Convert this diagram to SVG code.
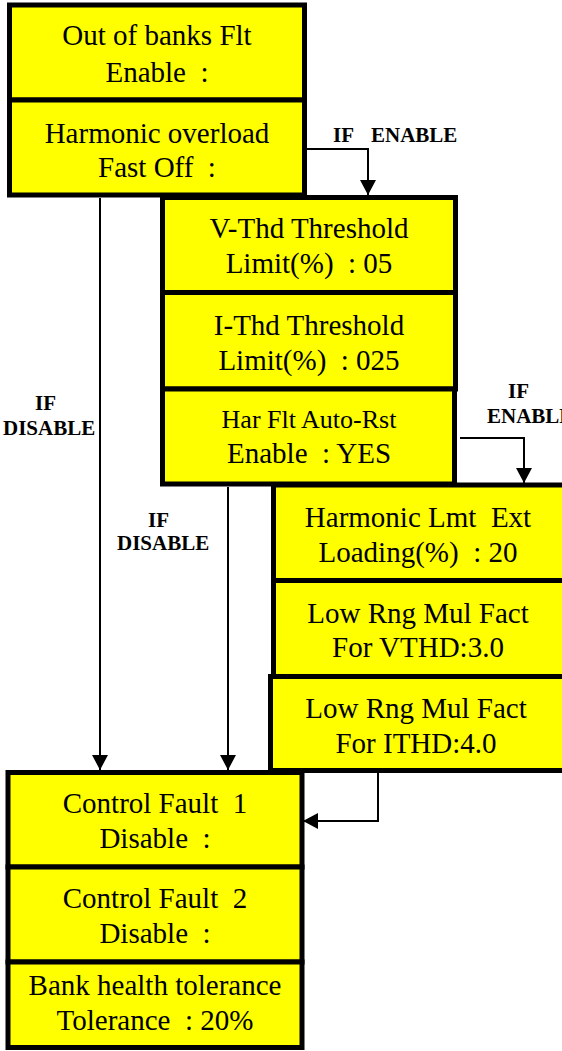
<svg xmlns="http://www.w3.org/2000/svg" width="562" height="1051" viewBox="0 0 562 1051">
<style>
.box{fill:#FFFF00;stroke:#000;stroke-width:5}
.t{font-family:"Liberation Serif","Times New Roman",serif;font-size:29px;fill:#000;text-anchor:middle;white-space:pre}
.s{font-size:26px}
.lbl{font-family:"Liberation Serif","Times New Roman",serif;font-size:21px;font-weight:bold;fill:#000;white-space:pre}
.c{fill:none;stroke:#000;stroke-width:2}
</style>
<defs>
<marker id="ah" markerUnits="userSpaceOnUse" markerWidth="16" markerHeight="16" refX="15" refY="8" orient="auto">
<path d="M0,0 L15,8 L0,16 z" fill="#000"/>
</marker>
</defs>
<rect width="562" height="1051" fill="#fff"/>
<g id="connectors">
<path class="c" d="M305,149 H368 V195" marker-end="url(#ah)"/>
<path class="c" d="M460,438 H524 V483" marker-end="url(#ah)"/>
<path class="c" d="M100,198 V770" marker-end="url(#ah)"/>
<path class="c" d="M228,487 V770" marker-end="url(#ah)"/>
<path class="c" d="M378,773 V821 H303" marker-end="url(#ah)"/>
<text class="lbl" x="333" y="142">IF<tspan x="371">ENABLE</tspan></text>
<text class="lbl" x="508" y="398">IF</text>
<text class="lbl" x="487" y="423">ENABLE</text>
<text class="lbl" x="35" y="410">IF</text>
<text class="lbl" x="3" y="435">DISABLE</text>
<text class="lbl" x="148" y="527">IF</text>
<text class="lbl" x="117" y="550">DISABLE</text>
</g>
<g id="n1"><rect class="box" x="9.5" y="5" width="295" height="95"/>
<text class="t" x="157" y="45">Out of banks Flt</text><text class="t" x="157" y="82">Enable  :</text></g>
<g id="n2"><rect class="box" x="9.5" y="100" width="295" height="95"/>
<text class="t" x="157" y="143">Harmonic overload</text><text class="t" x="157" y="177">Fast Off  :</text></g>
<g id="n3"><rect class="box" x="162.5" y="197.5" width="293" height="95"/>
<text class="t" x="309" y="238">V-Thd Threshold</text><text class="t" x="309" y="273">Limit(%)  : 05</text></g>
<g id="n4"><rect class="box" x="162.5" y="292.5" width="293" height="96.5"/>
<text class="t" x="309" y="335">I-Thd Threshold</text><text class="t" x="309" y="370">Limit(%)  : 025</text></g>
<g id="n5"><rect class="box" x="162.5" y="389" width="292" height="95"/>
<text class="t s" x="309" y="428">Har Flt Auto-Rst</text><text class="t" x="309" y="463">Enable  : YES</text></g>
<g id="n6"><rect class="box" x="273.5" y="485" width="292" height="95.5"/>
<text class="t" x="418" y="527">Harmonic Lmt  Ext</text><text class="t" x="418" y="562">Loading(%)  : 20</text></g>
<g id="n7"><rect class="box" x="273.5" y="580.5" width="292" height="96"/>
<text class="t" x="418" y="623">Low Rng Mul Fact</text><text class="t" x="418" y="657">For VTHD:3.0</text></g>
<g id="n8"><rect class="box" x="270.5" y="676.5" width="295" height="94"/>
<text class="t" x="416" y="718">Low Rng Mul Fact</text><text class="t" x="416" y="753">For ITHD:4.0</text></g>
<g id="n9"><rect class="box" x="8" y="772.5" width="294" height="94.5"/>
<text class="t" x="155" y="813">Control Fault  1</text><text class="t" x="155" y="848">Disable  :</text></g>
<g id="n10"><rect class="box" x="8" y="867" width="294" height="95"/>
<text class="t" x="155" y="908">Control Fault  2</text><text class="t" x="155" y="943">Disable  :</text></g>
<g id="n11"><rect class="box" x="8" y="962" width="294" height="85.5"/>
<text class="t" x="155" y="995">Bank health tolerance</text><text class="t" x="155" y="1030">Tolerance  : 20%</text></g>
</svg>
